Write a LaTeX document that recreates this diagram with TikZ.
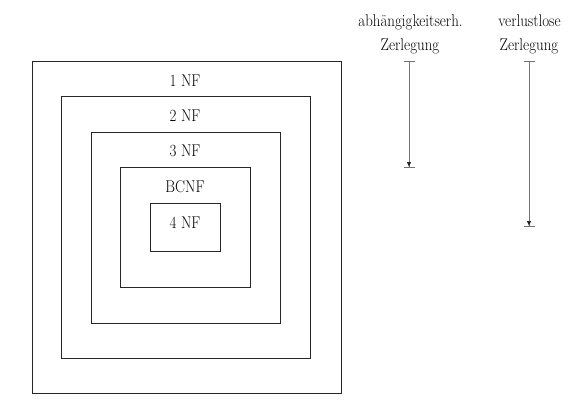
\documentclass[tikz,border=0pt]{standalone}
\usetikzlibrary{arrows.meta}
\newcommand{\nftxt}[1]{\scalebox{0.88}[1]{#1}}
\begin{document}
\begin{tikzpicture}[x=1pt,y=-1pt,
  nfbox/.style={draw=black!85,line width=0.9pt,rectangle,inner sep=0pt},
  lab/.style={font=\fontsize{17}{20}\selectfont,inner sep=0pt,anchor=base},
  rng/.style={draw=black!55,line width=0.8pt,
    {Bar[width=11pt,line width=0.9pt]}-{Latex[length=5pt,width=4.5pt,black!85]Bar[width=11pt,line width=0.9pt]}}]
\useasboundingbox (0,0) rectangle (580,401);
\node[nfbox,minimum width=309pt,minimum height=332pt] (b1) at (186.5,227) {};
\node[nfbox,minimum width=249pt,minimum height=262pt] (b2) at (185.5,227) {};
\node[nfbox,minimum width=189pt,minimum height=191pt] (b3) at (185.5,227.5) {};
\node[nfbox,minimum width=130pt,minimum height=120pt] (b4) at (185,227) {};
\node[nfbox,minimum width=70pt,minimum height=48pt] (b5) at (185,227) {};
\node[lab] (l1) at (185,86.5) {\nftxt{1 NF}};
\node[lab] (l2) at (185,121.5) {\nftxt{2 NF}};
\node[lab] (l3) at (185,156.5) {\nftxt{3 NF}};
\node[lab] (l4) at (185,192.5) {\nftxt{BCNF}};
\node[lab] (l5) at (185,228) {\nftxt{4 NF}};
\node[lab] (h1) at (410.5,27) {\nftxt{abhängigkeitserh.}};
\node[lab] (h1b) at (410,51) {\nftxt{Zerlegung}};
\node[lab] (h2) at (529.5,27) {\nftxt{verlustlose}};
\node[lab] (h2b) at (529,51) {\nftxt{Zerlegung}};
\coordinate (a1s) at (409,61);
\coordinate (a1e) at (409,168);
\coordinate (a2s) at (529,61);
\coordinate (a2e) at (529,227);
\draw[rng] (a1s) -- (a1e);
\draw[rng] (a2s) -- (a2e);
\end{tikzpicture}
\end{document}
